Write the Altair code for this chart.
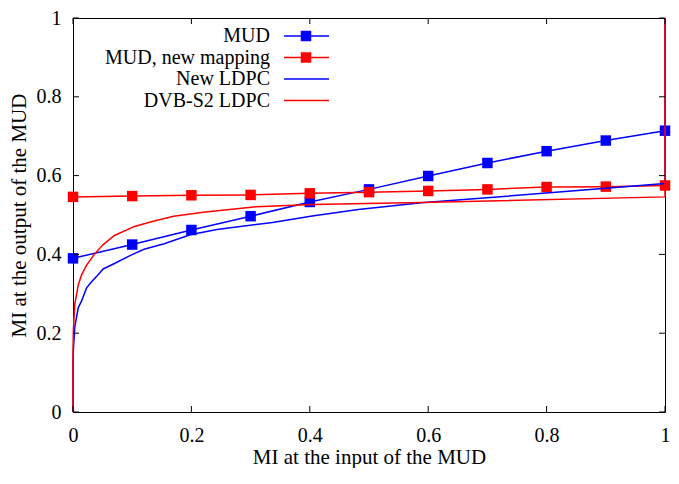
import altair as alt
import pandas as pd

# ---- data ----
mud_x = [0.0, 0.1, 0.2, 0.3, 0.4, 0.5, 0.6, 0.7, 0.8, 0.9, 1.0]
mud_y = [0.390, 0.425, 0.462, 0.497, 0.533, 0.565, 0.599, 0.632, 0.662, 0.689, 0.714]
mud_new_y = [0.546, 0.548, 0.550, 0.551, 0.555, 0.558, 0.561, 0.565, 0.571, 0.572, 0.575]

new_ldpc_x = [0.0, 0.0, 0.0006, 0.003, 0.009, 0.0145, 0.023, 0.031, 0.042, 0.051, 0.07,
              0.098, 0.12, 0.154, 0.198, 0.243, 0.337, 0.404, 0.482, 0.588, 0.794, 1.0, 1.0]
new_ldpc_y = [0.0, 0.12, 0.157, 0.216, 0.265, 0.282, 0.315, 0.33, 0.348, 0.363, 0.377,
              0.398, 0.413, 0.427, 0.450, 0.463, 0.481, 0.4975, 0.514, 0.531, 0.555, 0.580, 1.0]

dvb_x = [0.0, 0.0, 0.0006, 0.003, 0.009, 0.0145, 0.023, 0.037, 0.051, 0.07, 0.104,
         0.137, 0.170, 0.22, 0.309, 0.404, 0.588, 1.0, 1.0]
dvb_y = [0.0, 0.15, 0.207, 0.274, 0.323, 0.348, 0.373, 0.402, 0.425, 0.448, 0.471,
         0.485, 0.497, 0.507, 0.521, 0.5265, 0.532, 0.546, 1.0]

tick_values = [0.0, 0.2, 0.4, 0.6, 0.8, 1.0]

legend_labels = ["MUD", "MUD, new mapping", "New LDPC", "DVB-S2 LDPC"]
legend_colors = ["#0000ff", "#ff0000", "#0000ff", "#ff0000"]
legend_markers = [True, True, False, False]

# ---- styling ----
FONT = "Liberation Serif"
W, H = 592, 394
TICK = 6
LW = 1.5
SQ = 110

xscale = alt.Scale(domain=[0, 1], nice=False, zero=False)
yscale = alt.Scale(domain=[0, 1], nice=False, zero=False)

xaxis = alt.Axis(values=tick_values, format="~g", ticks=False, tickSize=0, domain=False,
                 grid=False, labelPadding=13, labelFlush=False, labelOverlap=False,
                 title="MI at the input of the MUD",
                 titleY=51, titleBaseline="alphabetic")
yaxis = alt.Axis(values=tick_values, format="~g", ticks=False, tickSize=0, domain=False,
                 grid=False, labelPadding=12, labelFlush=False, labelOverlap=False,
                 title="MI at the output of the MUD",
                 titleX=-48, titleBaseline="alphabetic")

X = alt.X("x:Q", scale=xscale, axis=xaxis)
Y = alt.Y("y:Q", scale=yscale, axis=yaxis)


def curve(xs, ys, color, markers):
    df = pd.DataFrame({"x": xs, "y": ys, "i": list(range(len(xs)))})
    base = alt.Chart(df)
    layers = [base.mark_line(color=color, strokeWidth=LW).encode(x=X, y=Y, order="i:Q")]
    if markers:
        layers.append(base.mark_square(size=SQ, color=color, opacity=1).encode(x=X, y=Y))
    return layers


layers = []
layers += curve(mud_x, mud_y, "#0000ff", True)
layers += curve(mud_x, mud_new_y, "#ff0000", True)
layers += curve(new_ldpc_x, new_ldpc_y, "#0000ff", False)
layers += curve(dvb_x, dvb_y, "#ff0000", False)

# inward ticks on all four sides
tx = alt.Chart(pd.DataFrame({"x": tick_values}))
ty = alt.Chart(pd.DataFrame({"y": tick_values}))
layers.append(tx.mark_rule(color="black", strokeWidth=1).encode(x=X, y=alt.value(H), y2=alt.value(H - TICK)))
layers.append(tx.mark_rule(color="black", strokeWidth=1).encode(x=X, y=alt.value(0), y2=alt.value(TICK)))
layers.append(ty.mark_rule(color="black", strokeWidth=1).encode(y=Y, x=alt.value(0), x2=alt.value(TICK)))
layers.append(ty.mark_rule(color="black", strokeWidth=1).encode(y=Y, x=alt.value(W), x2=alt.value(W - TICK)))

# gnuplot-style key (label, then sample)
rows = [18, 39.5, 61, 82.5]
for lab, col, mk, ry in zip(legend_labels, legend_colors, legend_markers, rows):
    d = alt.Chart(pd.DataFrame({"label": [lab]}))
    layers.append(d.mark_text(align="right", baseline="middle", font=FONT, fontSize=20,
                              color="black").encode(x=alt.value(197), y=alt.value(ry), text="label:N"))
    layers.append(d.mark_rule(color=col, strokeWidth=LW).encode(
        x=alt.value(211), x2=alt.value(256), y=alt.value(ry)))
    if mk:
        layers.append(d.mark_square(size=SQ, color=col, opacity=1).encode(
            x=alt.value(233), y=alt.value(ry)))

chart = alt.layer(*layers).properties(
    width=W, height=H,
    autosize=alt.AutoSizeParams(type="none"),
    padding={"left": 65, "top": 10, "right": 6, "bottom": 56},
).configure_view(
    stroke="black", strokeWidth=1
).configure_axis(
    labelFont=FONT, labelFontSize=20, labelColor="black",
    titleFont=FONT, titleFontSize=21, titleFontWeight="normal", titleColor="black",
)

chart.save("out.html", embed_options={"renderer": "svg", "actions": False})
